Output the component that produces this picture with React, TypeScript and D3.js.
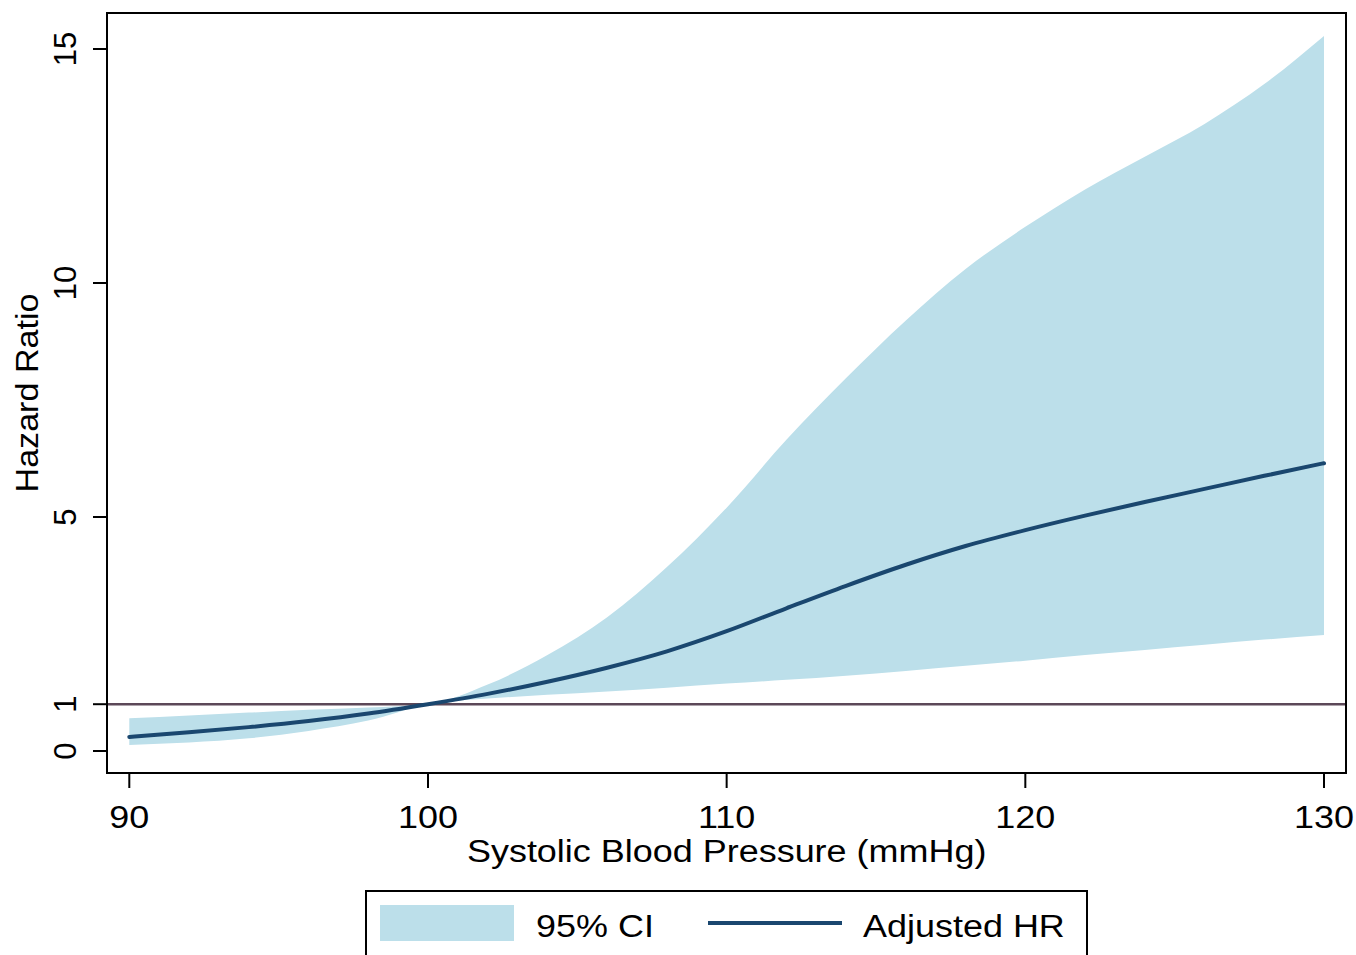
import React, { useEffect, useRef } from "react";
import * as d3 from "d3";

// systolic blood pressure grid (mmHg)
const sbp = [90, 92, 94, 96, 98, 100, 102, 104, 106, 108, 110, 112, 114, 116, 118, 120, 122, 124, 126, 128, 130];
// adjusted hazard ratio
const hr = [0.3, 0.4, 0.51, 0.64, 0.8, 1.0, 1.22, 1.48, 1.78, 2.13, 2.56, 3.05, 3.53, 3.98, 4.38, 4.72, 5.03, 5.32, 5.6, 5.88, 6.15];
// 95% CI bounds
const ciUpper = [0.7, 0.76, 0.82, 0.88, 0.93, 1.0, 1.42, 2.05, 2.86, 3.93, 5.2, 6.65, 7.97, 9.2, 10.3, 11.2, 12.0, 12.7, 13.4, 14.25, 15.28];
const ciLower = [0.13, 0.18, 0.27, 0.43, 0.65, 1.0, 1.12, 1.2, 1.27, 1.35, 1.44, 1.52, 1.61, 1.71, 1.82, 1.93, 2.05, 2.16, 2.27, 2.38, 2.48];

const xTicks = [90, 100, 110, 120, 130];
const yTicks = [0, 1, 5, 10, 15];
const refLine = 1;

const W = 1356;
const H = 955;
const box = { left: 107, top: 13, right: 1346, bottom: 773 };
const FONT = "'Liberation Sans', Arial, sans-serif";
const FS = 31;
const STRETCH = 1.16; // glyphs in the original are a bit wider than Arial
const BAND = "#bcdfea";
const NAVY = "#1a476f";

export default function App() {
  const ref = useRef<SVGSVGElement>(null);

  useEffect(() => {
    const svg = d3.select(ref.current);
    svg.selectAll("*").remove();

    const x = d3.scaleLinear().domain([90, 130]).range([129.3, 1324]);
    const y = d3.scaleLinear().domain([0, 15]).range([751, 49]);

    const rows = sbp.map((s, i) => ({ s, hr: hr[i], lo: ciLower[i], hi: ciUpper[i] }));

    const label = (g: any, tx: number, ty: number, txt: string, anchor: string, extra = "") =>
      g
        .append("text")
        .attr("transform", `translate(${tx},${ty}) ${extra} scale(${STRETCH},1)`)
        .attr("text-anchor", anchor)
        .attr("font-family", FONT)
        .attr("font-size", FS)
        .attr("fill", "#000")
        .text(txt);

    svg.append("rect").attr("width", W).attr("height", H).attr("fill", "#fff");

    const area = d3
      .area<any>()
      .x((d) => x(d.s))
      .y0((d) => y(d.lo))
      .y1((d) => y(d.hi))
      .curve(d3.curveMonotoneX);

    svg.append("path").datum(rows).attr("d", area).attr("fill", BAND);

    svg
      .append("line")
      .attr("x1", box.left)
      .attr("x2", box.right)
      .attr("y1", y(refLine))
      .attr("y2", y(refLine))
      .attr("stroke", "#5c4858")
      .attr("stroke-width", 2.5);

    const line = d3
      .line<any>()
      .x((d) => x(d.s))
      .y((d) => y(d.hr))
      .curve(d3.curveMonotoneX);

    svg
      .append("path")
      .datum(rows)
      .attr("d", line)
      .attr("fill", "none")
      .attr("stroke", NAVY)
      .attr("stroke-width", 4)
      .attr("stroke-linecap", "round");

    // plot frame
    svg
      .append("rect")
      .attr("x", box.left)
      .attr("y", box.top)
      .attr("width", box.right - box.left)
      .attr("height", box.bottom - box.top)
      .attr("fill", "none")
      .attr("stroke", "#000")
      .attr("stroke-width", 2);

    // x axis
    const gx = svg.append("g");
    xTicks.forEach((t) => {
      gx.append("line")
        .attr("x1", x(t))
        .attr("x2", x(t))
        .attr("y1", box.bottom)
        .attr("y2", box.bottom + 15)
        .attr("stroke", "#000")
        .attr("stroke-width", 2);
      label(gx, x(t), 828, String(t), "middle");
    });
    label(svg, x(110), 862, "Systolic Blood Pressure (mmHg)", "middle");

    // y axis
    const gy = svg.append("g");
    yTicks.forEach((t) => {
      gy.append("line")
        .attr("x1", box.left - 14)
        .attr("x2", box.left)
        .attr("y1", y(t))
        .attr("y2", y(t))
        .attr("stroke", "#000")
        .attr("stroke-width", 2);
      gy.append("text")
        .attr("transform", `translate(76,${y(t)}) rotate(-90)`)
        .attr("text-anchor", "middle")
        .attr("font-family", FONT)
        .attr("font-size", FS)
        .text(t);
    });
    svg
      .append("text")
      .attr("transform", `translate(38,${(box.top + box.bottom) / 2}) rotate(-90) scale(1.1,1)`)
      .attr("text-anchor", "middle")
      .attr("font-family", FONT)
      .attr("font-size", FS)
      .text("Hazard Ratio");

    // legend
    const lg = svg.append("g");
    lg.append("rect")
      .attr("x", 366)
      .attr("y", 891)
      .attr("width", 721)
      .attr("height", 90)
      .attr("fill", "#fff")
      .attr("stroke", "#000")
      .attr("stroke-width", 2);
    lg.append("rect").attr("x", 380).attr("y", 905).attr("width", 134).attr("height", 36).attr("fill", BAND);
    label(lg, 536, 937, "95% CI", "start");
    lg.append("line")
      .attr("x1", 708)
      .attr("x2", 842)
      .attr("y1", 923)
      .attr("y2", 923)
      .attr("stroke", NAVY)
      .attr("stroke-width", 4);
    label(lg, 863, 937, "Adjusted HR", "start");
  }, []);

  return (
    <div style={{ position: "absolute", left: 0, top: 0 }}>
      <svg ref={ref} width={W} height={H} style={{ display: "block" }} />
    </div>
  );
}
